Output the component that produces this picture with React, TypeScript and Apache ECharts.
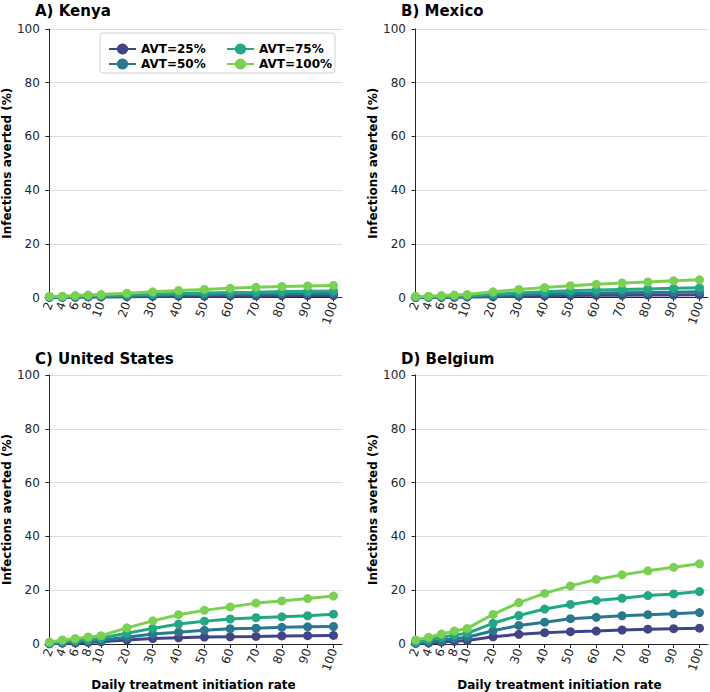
import React, { useEffect, useRef } from "react";
import * as echarts from "echarts";

const xCats = [2, 4, 6, 8, 10, 20, 30, 40, 50, 60, 70, 80, 90, 100];
const seriesNames = ["AVT=25%", "AVT=50%", "AVT=75%", "AVT=100%"];
const seriesColors = ["#414487", "#2a788e", "#22a884", "#7ad151"];
const yTicks = [0, 20, 40, 60, 80, 100];

const panelTitles = ["A) Kenya", "B) Mexico", "C) United States", "D) Belgium"];

const kenya25 = [0.1, 0.1, 0.1, 0.2, 0.2, 0.3, 0.4, 0.5, 0.5, 0.6, 0.6, 0.7, 0.7, 0.7];
const kenya50 = [0.1, 0.2, 0.3, 0.3, 0.4, 0.6, 0.8, 1.0, 1.1, 1.2, 1.3, 1.4, 1.5, 1.5];
const kenya75 = [0.2, 0.3, 0.4, 0.5, 0.6, 0.9, 1.2, 1.5, 1.7, 1.9, 2.0, 2.2, 2.3, 2.4];
const kenya100 = [0.4, 0.5, 0.7, 0.9, 1.1, 1.6, 2.1, 2.6, 3.0, 3.4, 3.8, 4.1, 4.3, 4.5];

const mexico25 = [0.0, 0.1, 0.1, 0.1, 0.2, 0.3, 0.5, 0.6, 0.7, 0.8, 0.8, 0.9, 0.9, 1.0];
const mexico50 = [0.1, 0.2, 0.2, 0.3, 0.4, 0.7, 1.0, 1.3, 1.5, 1.7, 1.8, 1.9, 2.0, 2.1];
const mexico75 = [0.2, 0.3, 0.4, 0.5, 0.6, 1.2, 1.7, 2.1, 2.5, 2.8, 3.0, 3.2, 3.4, 3.6];
const mexico100 = [0.4, 0.5, 0.7, 0.9, 1.1, 2.1, 3.0, 3.7, 4.4, 4.9, 5.4, 5.8, 6.2, 6.6];

const us25 = [0.1, 0.3, 0.4, 0.6, 0.8, 1.5, 2.0, 2.3, 2.6, 2.7, 2.8, 3.0, 3.1, 3.2];
const us50 = [0.2, 0.5, 0.8, 1.1, 1.4, 2.5, 3.7, 4.4, 5.1, 5.7, 5.9, 6.2, 6.4, 6.5];
const us75 = [0.4, 0.9, 1.3, 1.7, 2.2, 4.0, 5.8, 7.4, 8.5, 9.3, 9.8, 10.1, 10.5, 11.1];
const us100 = [0.7, 1.5, 2.0, 2.6, 3.1, 6.0, 8.6, 10.9, 12.5, 13.8, 15.2, 16.0, 16.9, 17.8];

const belgium25 = [0.2, 0.4, 0.7, 1.0, 1.3, 2.7, 3.6, 4.2, 4.6, 4.8, 5.2, 5.5, 5.7, 5.9];
const belgium50 = [0.3, 0.8, 1.4, 2.0, 2.5, 4.9, 6.9, 8.1, 9.4, 9.9, 10.5, 10.9, 11.2, 11.7];
const belgium75 = [0.7, 1.5, 2.5, 3.3, 4.0, 7.7, 10.6, 13.0, 14.7, 16.2, 17.0, 18.0, 18.6, 19.5];
const belgium100 = [1.5, 2.5, 3.7, 4.8, 5.8, 11.0, 15.4, 18.8, 21.6, 24.0, 25.7, 27.2, 28.5, 29.8];

const panels = [
  [kenya25, kenya50, kenya75, kenya100],
  [mexico25, mexico50, mexico75, mexico100],
  [us25, us50, us75, us100],
  [belgium25, belgium50, belgium75, belgium100],
];

// position of a treatment rate on the (non-linear) x scale used in the figure
const xPos = (v: number) => (v <= 10 ? (v - 2) / 2 : 4 + (v - 10) / 5);

const FONT = "DejaVu Sans";
const INK = "#262626";

export default function App() {
  const ref = useRef<HTMLDivElement>(null);
  useEffect(() => {
    if (!ref.current) return;
    const chart = echarts.init(ref.current, undefined, { renderer: "svg" });
    const grids = [
      { left: 44, top: 29, width: 298, height: 268.5 },
      { left: 411, top: 29, width: 297, height: 268.5 },
      { left: 44, top: 375, width: 298, height: 269 },
      { left: 411, top: 375, width: 297, height: 269 },
    ];
    const tickPositions = xCats.map(xPos);
    const xAxes = grids.map((_, i) => ({
      type: "value",
      gridIndex: i,
      min: -0.36,
      max: 22.66,
      splitLine: { show: false },
      axisLine: { show: true, lineStyle: { color: INK, width: 1 } },
      axisTick: {
        show: true,
        customValues: tickPositions,
        length: 4,
        lineStyle: { color: INK },
      },
      axisLabel: {
        customValues: tickPositions,
        rotate: 70,
        fontSize: 12,
        fontFamily: FONT,
        color: INK,
        margin: 5,
        formatter: (val: number) => {
          const idx = tickPositions.findIndex((p) => Math.abs(p - val) < 1e-6);
          return idx >= 0 ? String(xCats[idx]) : "";
        },
      },
      name: i >= 2 ? "Daily treatment initiation rate" : "",
      nameLocation: "middle",
      nameGap: 35,
      nameTextStyle: { fontSize: 12, fontWeight: "bold", fontFamily: FONT, color: "#000" },
    }));
    const yAxes = grids.map((_, i) => ({
      type: "value",
      gridIndex: i,
      min: 0,
      max: 100,
      interval: 20,
      axisLine: { show: true, lineStyle: { color: INK, width: 1 } },
      axisTick: { show: true, length: 4, lineStyle: { color: INK } },
      axisLabel: {
        fontSize: 12,
        fontFamily: FONT,
        color: INK,
        margin: 5,
        formatter: (v: number) => (yTicks.includes(v) ? String(v) : ""),
      },
      splitLine: { show: true, lineStyle: { color: "#dddddd", width: 1 } },
      name: "Infections averted (%)",
      nameLocation: "middle",
      nameGap: 29,
      nameTextStyle: { fontSize: 12, fontWeight: "bold", fontFamily: FONT, color: "#000" },
    }));
    const series: any[] = [];
    panels.forEach((panel, pi) => {
      panel.forEach((vals, si) => {
        series.push({
          type: "line",
          name: seriesNames[si],
          xAxisIndex: pi,
          yAxisIndex: pi,
          data: xCats.map((c, k) => [xPos(c), vals[k]]),
          symbol: "circle",
          symbolSize: 9,
          showSymbol: true,
          clip: false,
          color: seriesColors[si],
          lineStyle: { width: 3, color: seriesColors[si] },
          itemStyle: { color: seriesColors[si] },
          z: 2 + si,
        });
      });
    });
    const legendCommon = {
      orient: "vertical",
      itemWidth: 27,
      itemHeight: 14,
      itemGap: 3,
      textStyle: { fontSize: 12, fontWeight: "bold", fontFamily: FONT, color: "#000" },
      selectedMode: false,
    };
    chart.setOption({
      animation: false,
      backgroundColor: "#ffffff",
      textStyle: { fontFamily: FONT },
      title: panelTitles.map((t, i) => ({
        text: t,
        left: i % 2 === 0 ? 35 : 401,
        top: i < 2 ? 3 : 351,
        padding: 0,
        textStyle: { fontSize: 15, fontWeight: "bold", fontFamily: FONT, color: "#000" },
      })),
      grid: grids,
      xAxis: xAxes,
      yAxis: yAxes,
      series,
      legend: [
        { ...legendCommon, left: 103, top: 38, data: [seriesNames[0], seriesNames[1]] },
        { ...legendCommon, left: 221, top: 38, data: [seriesNames[2], seriesNames[3]] },
      ],
      graphic: [
        {
          type: "rect",
          shape: { x: 100, y: 33, width: 235, height: 40, r: 3 },
          style: { fill: "rgba(255,255,255,0.85)", stroke: "#d0d0d0", lineWidth: 1 },
          z: 3,
        },
      ],
    });
    return () => chart.dispose();
  }, []);
  return (
    <div
      ref={ref}
      style={{ position: "absolute", left: 0, top: 0, width: 710, height: 692 }}
    />
  );
}
